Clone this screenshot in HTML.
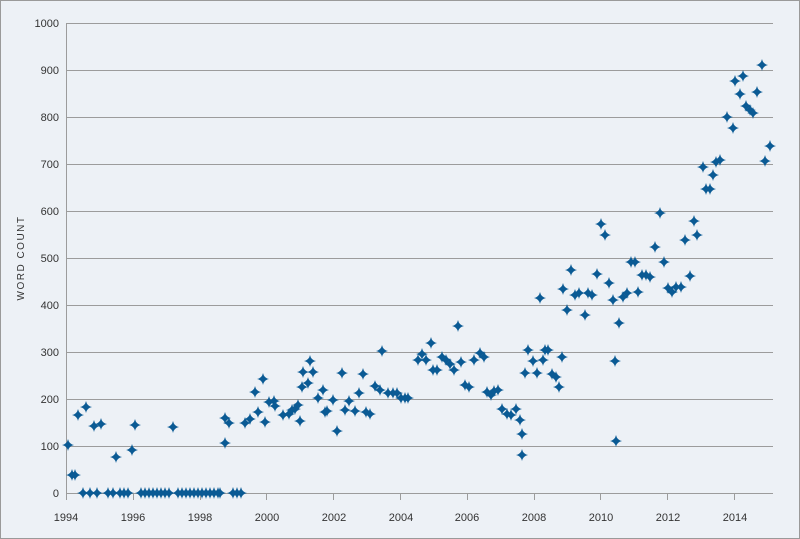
<!DOCTYPE html>
<html><head><meta charset="utf-8"><style>
html,body{margin:0;padding:0;background:#edf1f6}
svg{display:block}
text{font-family:"Liberation Sans",sans-serif;fill:#333;font-size:11px}
</style></head><body>
<svg width="800" height="539" viewBox="0 0 800 539">
<defs><path id="s" d="M0,-6 Q1,-1 6,0 Q1,1 0,6 Q-1,1 -6,0 Q-1,-1 0,-6Z" fill="#0a5a94"/></defs>
<rect x="0.5" y="0.5" width="799" height="538" fill="#edf1f6" stroke="#9a9a9a"/>
<g stroke="#9c9c9c" stroke-width="1">
<line x1="66" x2="773" y1="23.5" y2="23.5"/><line x1="66" x2="773" y1="70.5" y2="70.5"/>
<line x1="66" x2="773" y1="117.5" y2="117.5"/><line x1="66" x2="773" y1="164.5" y2="164.5"/>
<line x1="66" x2="773" y1="211.5" y2="211.5"/><line x1="66" x2="773" y1="258.5" y2="258.5"/>
<line x1="66" x2="773" y1="305.5" y2="305.5"/><line x1="66" x2="773" y1="352.5" y2="352.5"/>
<line x1="66" x2="773" y1="399.5" y2="399.5"/><line x1="66" x2="773" y1="446.5" y2="446.5"/>
<line x1="66" x2="773" y1="493.5" y2="493.5"/>
<line x1="66.5" x2="66.5" y1="23" y2="500"/>
<g>
<line x1="66.5" x2="66.5" y1="493" y2="500"/><line x1="133.5" x2="133.5" y1="493" y2="500"/>
<line x1="200.5" x2="200.5" y1="493" y2="500"/><line x1="266.5" x2="266.5" y1="493" y2="500"/>
<line x1="333.5" x2="333.5" y1="493" y2="500"/><line x1="400.5" x2="400.5" y1="493" y2="500"/>
<line x1="467.5" x2="467.5" y1="493" y2="500"/><line x1="534.5" x2="534.5" y1="493" y2="500"/>
<line x1="600.5" x2="600.5" y1="493" y2="500"/><line x1="667.5" x2="667.5" y1="493" y2="500"/>
<line x1="734.5" x2="734.5" y1="493" y2="500"/>
</g></g>
<g text-anchor="end">
<text x="59" y="27">1000</text><text x="59" y="74">900</text><text x="59" y="121">800</text>
<text x="59" y="168">700</text><text x="59" y="215">600</text><text x="59" y="262">500</text>
<text x="59" y="309">400</text><text x="59" y="356">300</text><text x="59" y="403">200</text>
<text x="59" y="450">100</text><text x="59" y="497">0</text>
</g>
<g text-anchor="middle">
<text x="66" y="521">1994</text><text x="133" y="521">1996</text><text x="200" y="521">1998</text>
<text x="267" y="521">2000</text><text x="334" y="521">2002</text><text x="401" y="521">2004</text>
<text x="467" y="521">2006</text><text x="534" y="521">2008</text><text x="601" y="521">2010</text>
<text x="668" y="521">2012</text><text x="735" y="521">2014</text>
</g>
<text transform="translate(24,258) rotate(-90)" text-anchor="middle" style="font-size:10px;letter-spacing:1.5px">WORD COUNT</text>
<g id="pts"></g>
</svg>
<script>
var p=[[68,445],[72,475],[75,475],[78,415],[83,493],[86,407],[90,493],[94,426],[97,493],[101,424],[108,493],[113,493],[116,457],[120,493],[124,493],[128,493],[132,450],[135,425],[141,493],[145,493],[149,493],[153,493],[157,493],[161,493],[165,493],[169,493],[173,427],[178,493],[182,493],[186,493],[190,493],[194,493],[198,493],[202,493],[206,493],[210,493],[214,493],[218,493],[220,493],[225,418],[225,443],[229,423],[233,493],[237,493],[241,493],[245,423],[250,419],[255,392],[258,412],[263,379],[265,422],[269,402],[274,401],[275,406],[283,415],[289,414],[292,410],[295,409],[298,405],[300,421],[302,387],[303,372],[308,383],[310,361],[313,372],[318,398],[323,390],[325,412],[327,411],[333,400],[337,431],[342,373],[345,410],[349,401],[355,411],[359,393],[363,374],[366,412],[370,414],[375,386],[380,390],[382,351],[388,393],[393,393],[397,393],[401,398],[405,398],[408,398],[418,360],[422,354],[426,360],[431,343],[433,370],[437,370],[442,357],[446,360],[450,364],[454,370],[458,326],[461,362],[465,385],[469,387],[474,360],[480,353],[484,357],[487,392],[491,395],[494,391],[498,390],[502,409],[507,414],[511,415],[516,409],[520,420],[522,434],[522,455],[525,373],[528,350],[533,361],[537,373],[540,298],[543,360],[545,350],[548,350],[552,374],[556,377],[559,387],[562,357],[563,289],[567,310],[571,270],[575,295],[579,293],[585,315],[588,293],[592,295],[597,274],[601,224],[605,235],[609,283],[613,300],[615,361],[616,441],[619,323],[623,297],[627,293],[631,262],[635,262],[638,292],[642,275],[646,275],[650,277],[655,247],[660,213],[664,262],[668,288],[672,292],[676,287],[681,287],[685,240],[690,276],[694,221],[697,235],[703,167],[706,189],[710,189],[713,175],[716,162],[720,160],[727,117],[733,128],[735,81],[740,94],[743,76],[746,106],[750,110],[753,113],[757,92],[762,65],[765,161],[770,146]];
var g=document.getElementById('pts'),h='';
p.forEach(function(a){h+='<use href="#s" x="'+a[0]+'" y="'+a[1]+'"/>';});
g.innerHTML=h;
</script>
</body></html>
